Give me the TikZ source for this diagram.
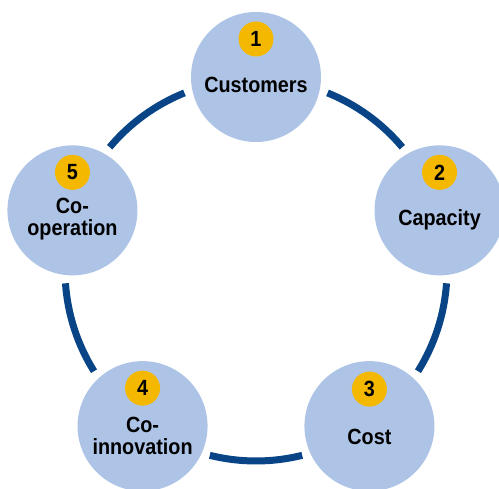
\documentclass[tikz,border=0pt]{standalone}
\usepackage{fontspec}
\setmainfont[FakeStretch=0.9]{Liberation Sans}
\usetikzlibrary{calc}
\definecolor{bubblefill}{HTML}{AEC4E6}
\definecolor{badgefill}{HTML}{F5B800}
\definecolor{ringblue}{HTML}{084486}
\tikzset{
  bubble/.style={circle, fill=bubblefill, minimum size=130pt, inner sep=0pt},
  badge/.style={circle, fill=badgefill, minimum size=35pt, inner sep=0pt,
    font=\fontsize{22}{24}\selectfont\bfseries},
  label/.style={align=center, font=\fontsize{22}{22}\selectfont\bfseries},
  ring/.style={draw=ringblue, line width=7pt, line cap=butt},
}
\begin{document}
\begin{tikzpicture}[x=1pt,y=1pt]
\useasboundingbox (0,0) rectangle (499,489);
\clip (0,0) rectangle (499,489);
\coordinate (O) at (256,219);
% ring segments between the bubbles
\foreach \a in {90,18,-54,-126,-198}{
  \draw[ring] ($(O)+(\a-22:191)$) arc[start angle=\a-22, end angle=\a-50, radius=191];
}
% bubbles
\node[bubble] (c1) at ($(O)+(90:193)$) {};
\node[bubble] (c2) at ($(O)+(18:193)$) {};
\node[bubble] (c3) at ($(O)+(-54:193)$) {};
\node[bubble] (c4) at ($(O)+(-126:193)$) {};
\node[bubble] (c5) at ($(O)+(162:193)$) {};
% numbered badges
\node[badge] (b1) at ($(c1)+(0,38)$) {1};
\node[badge] (b2) at ($(c2)+(0,38)$) {2};
\node[badge] (b3) at ($(c3)+(0,37)$) {3};
\node[badge] (b4) at ($(c4)+(0,38)$) {4};
\node[badge] (b5) at ($(c5)+(0,38)$) {5};
% labels
\node[label] (t1) at ($(c1)+(0,-8)$) {Customers};
\node[label] (t2) at ($(c2)+(0,-9)$) {Capacity};
\node[label] (t3) at ($(c3)+(0,-11)$) {Cost};
\node[label] (t4) at ($(c4)+(0,-10)$) {Co-\\innovation};
\node[label] (t5) at ($(c5)+(0,-9)$) {Co-\\operation};
\end{tikzpicture}
\end{document}
